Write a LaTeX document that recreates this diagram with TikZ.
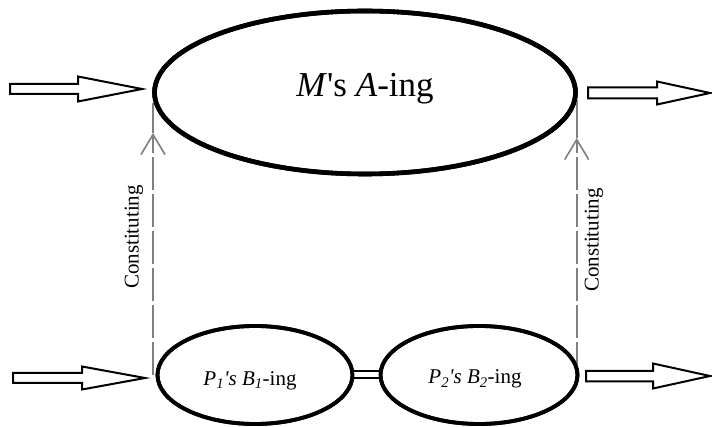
\documentclass[tikz,border=0pt]{standalone}
\usepackage{fontspec}
\setmainfont{Liberation Serif}
\usetikzlibrary{shapes.geometric,arrows.meta}
\begin{document}
\begin{tikzpicture}[x=1pt,y=-1pt,
  bigell/.style={draw,ellipse,line width=4.6pt,inner sep=0pt},
  smallell/.style={draw,ellipse,line width=3.8pt,inner sep=0pt,minimum height=98pt},
  hollow/.style={draw,line width=2pt,fill=white,line join=miter},
  constline/.style={draw=gray,line width=1.6pt,dash pattern=on 33pt off 4pt},
  consttip/.style={-{Straight Barb[length=20pt,width=24pt,line width=1.6pt]}},
  plain/.style={draw=gray,line width=1.6pt},
  lbl/.style={font=\fontsize{21}{24}\selectfont,rotate=90,inner sep=0pt}
]
\useasboundingbox (0,0) rectangle (712,427);
% nodes
\node[bigell,minimum width=421pt,minimum height=163pt] (top) at (365,92.5) {};
\node[anchor=base,inner sep=0pt,font=\fontsize{35}{40}\selectfont] (toptxt) at (365,97) {\textit{M}\textquotesingle s \textit{A}-ing};
\node[smallell,minimum width=195pt] (e1) at (255,375) {};
\node[smallell,minimum width=197pt] (e2) at (479,375) {};
\node[anchor=base,inner sep=0pt,font=\fontsize{21}{24}\selectfont] (t1) at (250,385) {\textit{P\textsubscript{1}\textquotesingle s B\textsubscript{1}}-ing};
\node[anchor=base,inner sep=0pt,font=\fontsize{21}{24}\selectfont] (t2) at (475,384) {\textit{P\textsubscript{2}\textquotesingle s B\textsubscript{2}}-ing};
% link between the small ellipses
\draw[line width=2pt,double,double distance=5pt] (e1.east) -- (e2.west);
% constituting connectors
\coordinate (l0) at (153,375);
\coordinate (l1) at (153,133);
\coordinate (l2) at (153,103);
\coordinate (r0) at (576.7,375);
\coordinate (r1) at (576.7,138);
\coordinate (r2) at (576.7,100);
\draw[plain] (l1) -- (l2);
\draw[plain] (r1) -- (r2);
\draw[constline,consttip] (l0) -- (l1);
\draw[constline,consttip] (r0) -- (r1);
\node[lbl] (cl) at (134,237) {Constituting};
\node[lbl] (cr) at (594,240) {Constituting};
% redraw ellipses on top of line ends
\node[bigell,minimum width=421pt,minimum height=163pt] at (365,92.5) {};
\node[smallell,minimum width=195pt] at (255,375) {};
\node[smallell,minimum width=197pt] at (479,375) {};
% hollow arrows
\draw[hollow] (10,84) -- (78,84) -- (78,76.5) -- (142,89) -- (78,101.5) -- (78,94) -- (10,94) -- cycle;
\draw[hollow] (588,87.5) -- (657,87.5) -- (657,81.5) -- (710,93) -- (657,104.5) -- (657,98.5) -- (588,98.5) -- cycle;
\draw[hollow] (13,373) -- (82,373) -- (82,366.5) -- (145,378) -- (82,389.5) -- (82,383) -- (13,383) -- cycle;
\draw[hollow] (586,371) -- (653,371) -- (653,363.5) -- (710,376) -- (653,388.5) -- (653,381.5) -- (586,381.5) -- cycle;
\end{tikzpicture}
\end{document}
